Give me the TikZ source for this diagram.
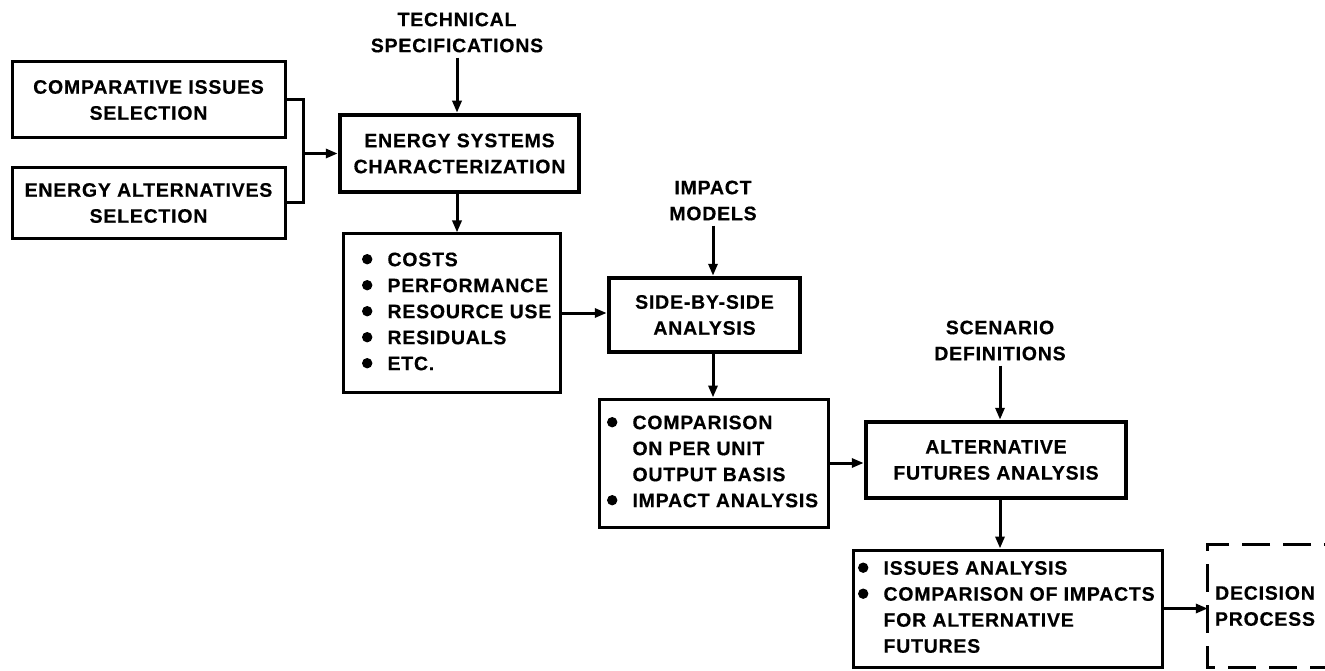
\documentclass[tikz,border=0pt]{standalone}
\usepackage{fontspec}
\setmainfont{Liberation Sans}[LetterSpace=4, BoldFeatures={FakeBold=0.4}]
\usetikzlibrary{arrows.meta}
\newcommand\bul{\makebox[25.5pt][l]{\tikz[x=1pt,y=1pt,baseline=0pt]{\path (0,0); \fill[black] (5,7) circle[radius=5.2];}}}
\newcommand\bulsp{\hspace*{25.5pt}}
\begin{document}
\begin{tikzpicture}[x=1pt,y=-1pt,
  every node/.style={font=\fontsize{19.5}{26}\selectfont\bfseries, inner sep=0pt},
  box/.style={draw, line width=3pt, align=center},
  thickbox/.style={draw, line width=4.5pt, align=center},
  lab/.style={align=center, inner sep=5pt},
  arr/.style={line width=3pt, -{Triangle[length=12pt,width=9pt]}},
  conn/.style={line width=3pt, line join=miter},
  dashline/.style={line width=3.2pt, dash pattern=on 28pt off 13pt}]
\useasboundingbox (0,0) rectangle (1325,671);
\fill[white] (0,0) rectangle (1325,671);

\node[box, minimum width=273pt, minimum height=76pt] (cis) at (148.5,100) {COMPARATIVE ISSUES\\SELECTION};
\node[box, minimum width=273pt, minimum height=70pt] (eas) at (148.5,203) {ENERGY ALTERNATIVES\\SELECTION};
\node[thickbox, minimum width=239pt, minimum height=77pt] (esc) at (459.5,153.5) {ENERGY SYSTEMS\\CHARACTERIZATION};
\node[lab] (tech) at (457,32.5) {TECHNICAL\\SPECIFICATIONS};
\node[box, minimum width=217pt, minimum height=158pt, inner xsep=19pt] (chars) at (451.5,313)
  {\makebox[179pt][l]{\begin{tabular}{@{}l@{}}\bul COSTS\\ \bul PERFORMANCE\\ \bul RESOURCE USE\\ \bul RESIDUALS\\ \bul ETC.\end{tabular}}};
\node[lab] (imp) at (713,200.5) {IMPACT\\MODELS};
\node[thickbox, minimum width=191pt, minimum height=74pt] (sbs) at (704.5,315) {SIDE-BY-SIDE\\ANALYSIS};
\node[box, minimum width=229pt, minimum height=128pt, inner xsep=8pt] (cmp) at (713.5,463)
  {\makebox[213pt][l]{\begin{tabular}{@{}l@{}}\bul COMPARISON\\ \bulsp ON PER UNIT\\ \bulsp OUTPUT BASIS\\ \bul IMPACT ANALYSIS\end{tabular}}};
\node[lab] (scn) at (1000,340.5) {SCENARIO\\DEFINITIONS};
\node[thickbox, minimum width=260pt, minimum height=76pt] (afa) at (996,460) {ALTERNATIVE\\FUTURES ANALYSIS};
\node[box, minimum width=309pt, minimum height=117pt, inner xsep=5pt] (iss) at (1007.5,608.5)
  {\makebox[299pt][l]{\begin{tabular}{@{}l@{}}\bul ISSUES ANALYSIS\\ \bul COMPARISON OF IMPACTS\\ \bulsp FOR ALTERNATIVE\\ \bulsp FUTURES\end{tabular}}};
\node[minimum width=114pt, minimum height=122pt, align=center] (dec) at (1265,606) {DECISION\\PROCESS};
\draw[dashline] ([xshift=30pt]dec.north east) -- (dec.north west) -- (dec.south west) -- ([xshift=30pt]dec.south east);

\coordinate (j) at (303,153.5);
\draw[conn] (cis.east) -| (j) |- (eas.east);
\draw[arr] (j) -- (j -| esc.west);
\draw[arr] (tech.south) -- (tech.south |- esc.north);
\draw[arr] (esc.south -| tech.south) -- (chars.north -| tech.south);
\draw[arr] (chars.east) -- (chars.east -| sbs.west);
\draw[arr] (imp.south) -- (imp.south |- sbs.north);
\draw[arr] (sbs.south -| imp.south) -- (cmp.north -| imp.south);
\draw[arr] (cmp.east) -- (cmp.east -| afa.west);
\draw[arr] (scn.south) -- (scn.south |- afa.north);
\draw[arr] (afa.south -| scn.south) -- (iss.north -| scn.south);
\draw[arr] (iss.east) -- (iss.east -| dec.west);
\end{tikzpicture}
\end{document}
